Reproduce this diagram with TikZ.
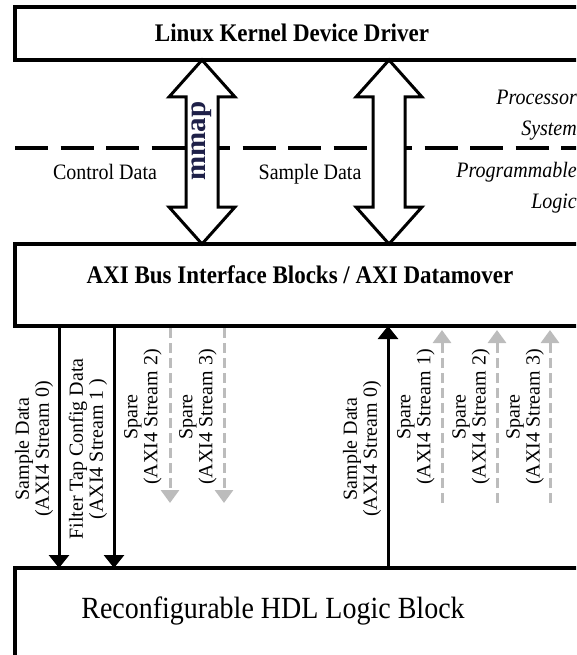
\documentclass[tikz,border=0pt]{standalone}
\usepackage{fontspec}
\setmainfont{Liberation Serif}
\usetikzlibrary{arrows.meta}
\definecolor{mmapink}{RGB}{30,32,72}
\definecolor{sparegray}{RGB}{188,188,188}
% horizontal texts are set slightly taller than wide
\newcommand{\tallset}[1]{\scalebox{1}[1.1]{#1}}
\begin{document}
\begin{tikzpicture}[x=1pt,y=-1pt,
  blk/.style={draw, line width=3.2pt, fill=white, inner sep=0pt, outer sep=0pt,
              anchor=north west, minimum width=640pt},
  title/.style={font=\bfseries\fontsize{23}{26}\selectfont, anchor=base},
  lbl/.style={font=\fontsize{20}{20}\selectfont, align=center, inner sep=0pt},
  vlbl/.style={lbl, rotate=90},
  region/.style={font=\itshape\fontsize{20}{24}\selectfont, anchor=base east, inner sep=0pt},
  divider/.style={line width=4pt, dash pattern=on 33pt off 12.5pt},
  bus/.style={draw, line width=3pt, fill=white, line join=miter, miter limit=10},
  stream/.style={line width=3pt, -{Triangle[width=20pt,length=13pt]}},
  spare/.style={line width=3pt, sparegray, dash pattern=on 10pt off 5pt,
                -{Triangle[width=18pt,length=13pt]}},
]
\useasboundingbox (0,0) rectangle (576,655);
\clip (0,0) rectangle (576,655);

% the three blocks (they run on past the right edge)
\node[blk, minimum height=53pt]  (drv) at (15,7)   {};
\node[blk, minimum height=82pt]  (axi) at (15,244) {};
\node[blk, minimum height=120pt] (hdl) at (15,568) {};

\node[title] (drvt) at (292,41.7) {\tallset{Linux Kernel Device Driver}};
\node[title] (axit) at (300,283) {\tallset{AXI Bus Interface Blocks / AXI Datamover}};
\node[font=\fontsize{28}{30}\selectfont, anchor=base] (hdlt) at (273,618)
  {\tallset{Reconfigurable HDL Logic Block}};

% boundary between processor system and programmable logic
\coordinate (divL) at (15,148);
\coordinate (divR) at (640,148);
\draw[divider] (divL) -- (divR);

\node[region] (ps1) at (577,105) {\tallset{Processor}};
\node[region] (ps2) at (577,136) {\tallset{System}};
\node[region] (pl1) at (577,177) {\tallset{Programmable}};
\node[region] (pl2) at (577,208) {\tallset{Logic}};

% wide double-headed bus arrows
\coordinate (c1) at (202,0);
\coordinate (c2) at (389,0);
\foreach \c in {c1,c2}
  \draw[bus] (drv.south -| \c) -- ++(33,37) -- ++(-17,0) -- ++(0,110) -- ++(17,0)
    -- (axi.north -| \c) -- ++(-33,-37) -- ++(17,0) -- ++(0,-110) -- ++(-17,0) -- cycle;

\node[rotate=90, font=\bfseries\fontsize{29}{30}\selectfont, text=mmapink, inner sep=0pt]
  (mmap) at (201.5,141) {mmap};
\node[lbl, anchor=base] (cd) at (105,179.5) {\tallset{Control Data}};
\node[lbl, anchor=base] (sd) at (310,179.5) {\tallset{Sample Data}};

% AXI4 streams
\coordinate (k1) at (59,0);
\coordinate (k2) at (114,0);
\coordinate (k3) at (388,0);
\draw[stream] (axi.south -| k1) -- (hdl.north -| k1);
\draw[stream] (axi.south -| k2) -- (hdl.north -| k2);
\draw[stream] (hdl.north -| k3) -- (axi.south -| k3);

\coordinate (s2) at (170,503);
\coordinate (s3) at (224,503);
\draw[spare, shorten <=2pt] (axi.south -| s2) -- (s2);
\draw[spare, shorten <=2pt] (axi.south -| s3) -- (s3);

\coordinate (u1) at (442,503);
\coordinate (u2) at (497,503);
\coordinate (u3) at (550,503);
\draw[spare, shorten >=4pt] (u1) -- (axi.south -| u1);
\draw[spare, shorten >=4pt] (u2) -- (axi.south -| u2);
\draw[spare, shorten >=4pt] (u3) -- (axi.south -| u3);

\node[vlbl] (l0) at (34,449)  {Sample Data\\(AXI4 Stream 0)};
\node[vlbl] (l1) at (88,449)  {Filter Tap Config Data\\(AXI4 Stream 1 )};
\node[vlbl] (l2) at (143,417) {Spare\\(AXI4 Stream 2)};
\node[vlbl] (l3) at (198,417) {Spare\\(AXI4 Stream 3)};
\node[vlbl] (r0) at (362,449) {Sample Data\\(AXI4 Stream 0)};
\node[vlbl] (r1) at (416,417) {Spare\\(AXI4 Stream 1)};
\node[vlbl] (r2) at (471,417) {Spare\\(AXI4 Stream 2)};
\node[vlbl] (r3) at (525,417) {Spare\\(AXI4 Stream 3)};
\end{tikzpicture}
\end{document}
